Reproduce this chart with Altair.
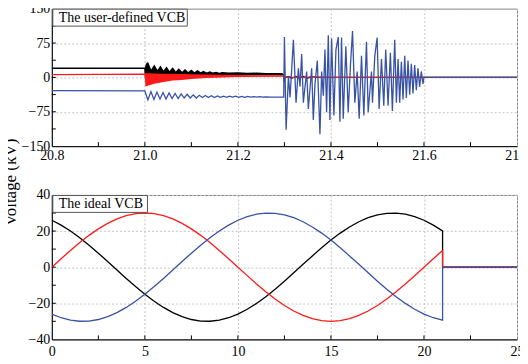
import altair as alt
import pandas as pd

FONT = "Liberation Serif"
BLACK = "#000000"
RED = "#ff1a1a"
BLUE = "#3852a4"

W = 467
H1 = 138
H2 = 145

# ---------------- top panel: the user-defined VCB ----------------
top_xticks = [20.8, 21.0, 21.2, 21.4, 21.6, 21.8]
top_yticks = [-150, -75, 0, 75, 150]
top_xminor = [20.9, 21.0, 21.1, 21.2, 21.3, 21.4, 21.5, 21.6, 21.7]
top_yminor = [-112.5, -75, -37.5, 0, 37.5, 75, 112.5]

black_top_t = [20.8, 21.0, 21.0005, 21.15, 21.296, 21.2985, 21.2995, 21.301, 21.31, 21.315,
               21.325, 21.33, 21.34, 21.35, 21.36, 21.37, 21.8]
black_top_v = [20, 20, 10, 8, 7, 5, -10, 0, 2, -2,
               2, -1.5, 2, -1.5, 1.5, 0, 0]

black_band_t = [21.000, 21.002, 21.007, 21.0135, 21.0203, 21.027, 21.0335, 21.040, 21.0467, 21.053,
                21.060, 21.0665, 21.073, 21.080, 21.0865, 21.093, 21.100, 21.1065, 21.113, 21.120,
                21.126, 21.133, 21.140, 21.146, 21.153, 21.160, 21.166, 21.180, 21.200, 21.220,
                21.240, 21.260, 21.280, 21.296]
black_band_hi = [20, 30, 33.5, 17, 28, 16, 26, 15, 24, 14,
                 22, 13, 20, 12.5, 18.5, 12, 17, 11.5, 16, 11,
                 14.5, 10.5, 13.5, 10.5, 12.5, 10, 12, 10.5, 11, 10,
                 10.5, 9.5, 9.5, 9]
black_band_lo = [3, 3, 3.5, 4, 4, 4, 4.5, 4.5, 4.5, 4.5,
                 5, 5, 5, 5, 5, 5, 5, 5, 5.5, 5.5,
                 5.5, 5.5, 5.5, 5.5, 5.5, 5.5, 5.5, 5.5, 6, 6,
                 6, 6, 6, 6]

red_top_t = [20.8, 21.0, 21.0005, 21.15, 21.296, 21.2995, 21.31, 21.32, 21.33, 21.345,
             21.36, 21.38, 21.8]
red_top_v = [6, 7, 0, 2, 3.5, 0.5, 1.5, -0.5, 1.5, -0.5,
             1.5, 0, 0]

red_band_t = [21.000, 21.001, 21.01, 21.02, 21.04, 21.06, 21.08, 21.10, 21.13, 21.16,
              21.20, 21.25, 21.296]
red_band_hi = [7, 9, 9, 8.5, 8, 8, 7.5, 7, 6.5, 6, 5, 4.5, 4]
red_band_lo = [7, -20, -17, -14, -10, -7, -5.5, -3.5, -1.5, 0, 1, 2, 2.5]

blue_top_t = [20.8, 21.000, 21.0065, 21.013, 21.0195, 21.026, 21.0325, 21.039, 21.0455, 21.052,
              21.0585, 21.065, 21.0715, 21.078, 21.0845, 21.091, 21.0975, 21.104, 21.1105, 21.117,
              21.1235, 21.130, 21.1365, 21.143, 21.1495, 21.156, 21.1625, 21.169, 21.1755, 21.182,
              21.1885, 21.195, 21.2015, 21.208, 21.2145, 21.221, 21.2275, 21.234, 21.2405, 21.247,
              21.2535, 21.26, 21.27, 21.28, 21.2985,
              21.300, 21.3036, 21.3086, 21.3121, 21.3193, 21.3250, 21.330, 21.3336, 21.3371, 21.3407,
              21.3478, 21.3514, 21.3586, 21.3621, 21.3657, 21.3707, 21.3764, 21.380, 21.3836, 21.3871,
              21.3907, 21.3943, 21.3978, 21.4014, 21.4064, 21.4107, 21.4157, 21.4193, 21.4228, 21.4264,
              21.4321, 21.4371, 21.4421, 21.4464, 21.4514, 21.4564, 21.4607, 21.4657, 21.4707, 21.4764,
              21.480, 21.4871, 21.4893, 21.4943, 21.4993, 21.5036, 21.5086, 21.5136, 21.5178, 21.5228,
              21.5278, 21.5321, 21.5371, 21.5407, 21.5443, 21.5478, 21.5514, 21.555, 21.5586, 21.5621,
              21.5657, 21.5693, 21.5728, 21.5764, 21.580, 21.5836, 21.5871, 21.5907, 21.5943, 21.5978,
              21.600, 21.8]
blue_top_v = [-29, -29.5, -49, -31, -48, -32, -47, -33, -47, -34,
              -46, -35, -46, -36, -45, -37, -45, -38, -45, -39,
              -44, -39.5, -44, -40, -44, -40.5, -43.5, -41, -43.5, -41,
              -43, -41, -43.5, -41.5, -43.5, -41.5, -43, -42, -43, -42,
              -43, -42.5, -43, -43, -43,
              88, -114, 3, -44, 82, -55, 20, -20, 51, -55,
              13, -69, 20, -93, -14, 37, -124, 13, -40, 61,
              -76, 92, -93, 85, -83, 60, 88, -97, 87, -90,
              68, -76, 30, 101, -55, 13, -90, 47, -83, 78,
              -76, 13, -55, 47, 87, -69, 40, -62, 61, -62,
              54, -73, 82, -55, 40, -55, 34, -48, 47, -45,
              37, -38, 30, -35, 27, -28, 20, -21, 13, -14,
              0, 0]

# ---------------- bottom panel: the ideal VCB ----------------
bot_xticks = [0, 5, 10, 15, 20, 25]
bot_yticks = [-40, -20, 0, 20, 40]
bot_xminor = [2.5, 5, 7.5, 10, 12.5, 15, 17.5, 20, 22.5]
bot_yminor = [-30, -20, -10, 0, 10, 20, 30]

ideal_t = [0, 0.5, 1, 1.5, 2, 2.5, 3, 3.5, 4, 4.5, 5, 5.5, 6, 6.5, 7, 7.5, 8, 8.5, 9, 9.5,
           10, 10.5, 11, 11.5, 12, 12.5, 13, 13.5, 14, 14.5, 15, 15.5, 16, 16.5, 17, 17.5,
           18, 18.5, 19, 19.5, 20, 20.5, 21, 21, 25]
ideal_red = [0, 4.69, 9.27, 13.62, 17.63, 21.21, 24.27, 26.73, 28.53, 29.63,
             30, 29.63, 28.53, 26.73, 24.27, 21.21, 17.63, 13.62, 9.27, 4.69,
             0, -4.69, -9.27, -13.62, -17.63, -21.21, -24.27, -26.73, -28.53, -29.63,
             -30, -29.63, -28.53, -26.73, -24.27, -21.21, -17.63, -13.62, -9.27, -4.69,
             0, 4.69, 9.27, 0, 0]
ideal_black = [25.98, 23.31, 20.07, 16.34, 12.20, 7.76, 3.14, -1.57, -6.24, -10.75,
               -15, -18.88, -22.29, -25.16, -27.41, -28.98, -29.84, -29.96, -29.34, -28.01,
               -25.98, -23.31, -20.07, -16.34, -12.20, -7.76, -3.14, 1.57, 6.24, 10.75,
               15, 18.88, 22.29, 25.16, 27.41, 28.98, 29.84, 29.96, 29.34, 28.01,
               25.98, 23.31, 20.07, 0, 0]
ideal_blue = [-25.98, -28.01, -29.34, -29.96, -29.84, -28.98, -27.41, -25.16, -22.29, -18.88,
              -15, -10.75, -6.24, -1.57, 3.14, 7.76, 12.20, 16.34, 20.07, 23.31,
              25.98, 28.01, 29.34, 29.96, 29.84, 28.98, 27.41, 25.16, 22.29, 18.88,
              15, 10.75, 6.24, 1.57, -3.14, -7.76, -12.20, -16.34, -20.07, -23.31,
              -25.98, -28.01, -29.34, 0, 0]


def df_line(t, v):
    return pd.DataFrame({"t": t, "v": v, "i": list(range(len(t)))})


def line(df, xenc, yenc, color):
    return alt.Chart(df).mark_line(color=color, strokeWidth=1.3, clip=True).encode(
        x=xenc, y=yenc, order="i:Q")


def band(t, hi, lo, xenc, yenc, color):
    df = pd.DataFrame({"t": t, "v": hi, "v2": lo})
    return alt.Chart(df).mark_area(color=color, opacity=1, clip=True).encode(
        x=xenc, y=yenc, y2="v2:Q")


def panel(layers, xenc, yenc, xminor, yminor, h, label, box_w):
    tx = alt.Chart(pd.DataFrame({"t": xminor})).mark_rule(color="black", strokeWidth=1).encode(
        x=xenc, y=alt.value(h), y2=alt.value(h - 4))
    ty = alt.Chart(pd.DataFrame({"v": yminor})).mark_rule(color="black", strokeWidth=1).encode(
        y=yenc, x=alt.value(0), x2=alt.value(4))
    lab = pd.DataFrame({"s": [label]})
    box = alt.Chart(lab).mark_rect(fill="white", stroke="#555555", strokeWidth=1).encode(
        x=alt.value(1), x2=alt.value(box_w), y=alt.value(0.5), y2=alt.value(17.5))
    txt = alt.Chart(lab).mark_text(font=FONT, fontSize=14, align="left", baseline="middle",
                                   color="black").encode(
        text="s:N", x=alt.value(7), y=alt.value(9.5))
    return alt.layer(*layers, tx, ty, box, txt).properties(width=W, height=h)


# top encodings
x_top = alt.X("t:Q", scale=alt.Scale(domain=[20.8, 21.8], nice=False, zero=False),
              axis=alt.Axis(values=top_xticks, format=".1f", title=None, labelPadding=2,
                            labelFlush=False))
y_top = alt.Y("v:Q", scale=alt.Scale(domain=[-150, 150], nice=False),
              axis=alt.Axis(values=top_yticks, format="d", title="Voltage (kV)",
                            titleX=-36, titleY=174, titleAngle=270, titleAlign="center",
                            titleBaseline="alphabetic", grid=True, labelPadding=2))

top_layers = [
    line(df_line(black_top_t, black_top_v), x_top, y_top, BLACK),
    band(black_band_t, black_band_hi, black_band_lo, x_top, y_top, BLACK),
    line(df_line(red_top_t, red_top_v), x_top, y_top, RED),
    band(red_band_t, red_band_hi, red_band_lo, x_top, y_top, RED),
    line(df_line(blue_top_t, blue_top_v), x_top, y_top, BLUE),
]
top = panel(top_layers, x_top, y_top, top_xminor, top_yminor, H1, "The user-defined VCB", 136)

# bottom encodings
x_bot = alt.X("t:Q", scale=alt.Scale(domain=[0, 25], nice=False, zero=False),
              axis=alt.Axis(values=bot_xticks, format="d", title="Time (ms)", labelPadding=5,
                            labelFlush=False, titlePadding=4))
y_bot = alt.Y("v:Q", scale=alt.Scale(domain=[-40, 40], nice=False),
              axis=alt.Axis(values=bot_yticks, format="d", title=None, grid=True, labelPadding=2))

bot_layers = [
    line(df_line(ideal_t, ideal_black), x_bot, y_bot, BLACK),
    line(df_line(ideal_t, ideal_red), x_bot, y_bot, RED),
    line(df_line(ideal_t, ideal_blue), x_bot, y_bot, BLUE),
]
bottom = panel(bot_layers, x_bot, y_bot, bot_xminor, bot_yminor, H2, "The ideal VCB", 96)

chart = alt.vconcat(top, bottom, spacing=49, bounds="flush").properties(
    padding={"left": -7, "top": -8, "right": -10, "bottom": -21},
    background="white",
).configure_view(stroke="#808080", strokeWidth=1).configure_axis(
    labelFont=FONT, titleFont=FONT, labelFontSize=14, titleFontSize=17,
    labelColor="black", titleColor="black", titleFontWeight="normal",
    domainColor="black", domainWidth=1, ticks=False, tickSize=0,
    gridColor="#c4c4c4", gridDash=[2, 2], gridWidth=1, labelOverlap=False,
)

chart.save("out.html", embed_options={"renderer": "svg", "actions": False})
